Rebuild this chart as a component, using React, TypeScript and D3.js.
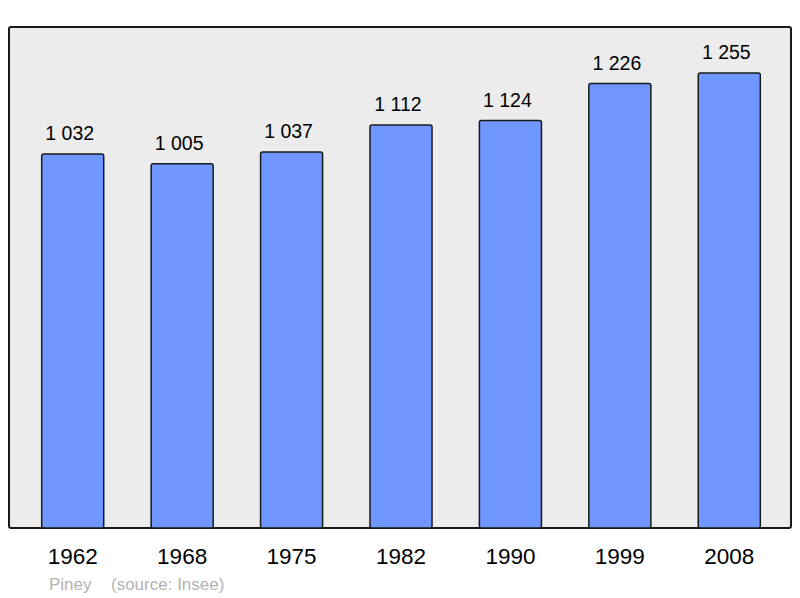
import React, { useEffect, useRef } from 'react';
import * as d3 from 'd3';

const years = ['1962', '1968', '1975', '1982', '1990', '1999', '2008'];
const population = [1032, 1005, 1037, 1112, 1124, 1226, 1255];
const valueLabels = ['1 032', '1 005', '1 037', '1 112', '1 124', '1 226', '1 255'];
const caption = ['Piney', '(source: Insee)'];

const App = () => {
  const ref = useRef<SVGSVGElement>(null);

  useEffect(() => {
    const svg = d3.select(ref.current);
    svg.selectAll('*').remove();

    const width = 800;
    const height = 598;
    const panel = { left: 9, top: 27, right: 791, bottom: 528 };

    svg.attr('width', width).attr('height', height);

    // background panel
    svg
      .append('rect')
      .attr('x', panel.left)
      .attr('y', panel.top)
      .attr('width', panel.right - panel.left)
      .attr('height', panel.bottom - panel.top)
      .attr('rx', 2)
      .attr('fill', '#ececec')
      .attr('stroke', '#1a1a1a')
      .attr('stroke-width', 2);

    const xScale = d3
      .scaleBand()
      .domain(years)
      .range([18, 784])
      .paddingInner(0.433)
      .paddingOuter(0.2165);

    const yScale = d3
      .scaleLinear()
      .domain([0, 1382])
      .range([panel.bottom, panel.top]);

    const font = '"Liberation Sans", Arial, sans-serif';

    svg
      .selectAll('rect.bar')
      .data(population)
      .enter()
      .append('rect')
      .attr('class', 'bar')
      .attr('x', (_, i) => xScale(years[i]))
      .attr('y', (d) => yScale(d))
      .attr('width', xScale.bandwidth())
      .attr('height', (d) => yScale(0) - yScale(d))
      .attr('rx', 2)
      .attr('fill', '#7096ff')
      .attr('stroke', '#1a1a1a')
      .attr('stroke-width', 1.5);

    // value labels above bars
    svg
      .selectAll('text.value')
      .data(population)
      .enter()
      .append('text')
      .attr('class', 'value')
      .attr('x', (_, i) => xScale(years[i]) + xScale.bandwidth() / 2 - 3)
      .attr('y', (d) => yScale(d) - 14)
      .attr('text-anchor', 'middle')
      .attr('font-family', font)
      .attr('font-size', 19.5)
      .attr('fill', '#000')
      .text((_, i) => valueLabels[i]);

    // year labels
    svg
      .selectAll('text.year')
      .data(years)
      .enter()
      .append('text')
      .attr('class', 'year')
      .attr('x', (d) => xScale(d) + xScale.bandwidth() / 2)
      .attr('y', 564)
      .attr('text-anchor', 'middle')
      .attr('font-family', font)
      .attr('font-size', 22.5)
      .attr('fill', '#000')
      .text((d) => d);

    svg
      .append('text')
      .attr('x', 49)
      .attr('y', 590)
      .attr('font-family', font)
      .attr('font-size', 17)
      .attr('fill', '#b3b3b3')
      .text(caption[0]);

    svg
      .append('text')
      .attr('x', 111)
      .attr('y', 590)
      .attr('font-family', font)
      .attr('font-size', 17)
      .attr('fill', '#b3b3b3')
      .text(caption[1]);
  }, []);

  return (
    <div style={{ position: 'absolute', left: 0, top: 0 }}>
      <svg ref={ref}></svg>
    </div>
  );
};

export default App;
